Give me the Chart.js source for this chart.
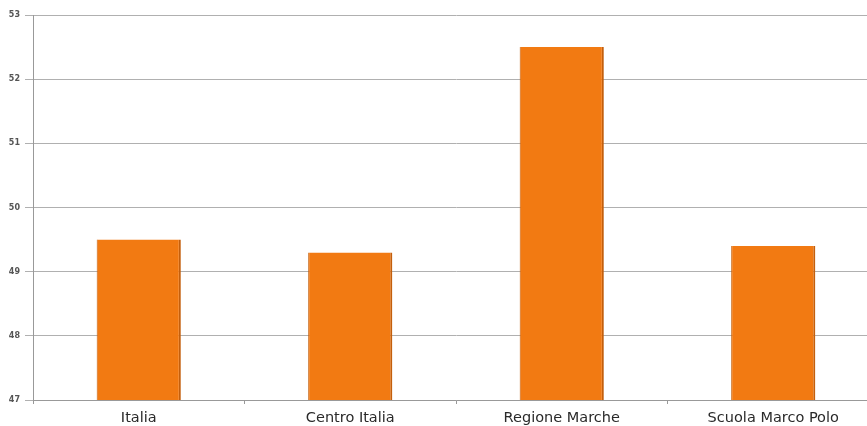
<!DOCTYPE html>
<html><head><meta charset="utf-8">
<script src="https://cdn.jsdelivr.net/npm/chart.js@4"></script>
<style>html,body{margin:0;padding:0;background:#fff;overflow:hidden}#w{width:867px;height:426px;overflow:hidden}</style>
</head><body><div id="w"><canvas id="c" width="879" height="426"></canvas></div>
<script>
const categories = ["Italia", "Centro Italia", "Regione Marche", "Scuola Marco Polo"];
const values = [49.5, 49.3, 52.5, 49.4];
const yTicks = [47, 48, 49, 50, 51, 52, 53];

new Chart(document.getElementById('c'), {
  type: 'bar',
  data: {
    labels: categories,
    datasets: [{
      data: values,
      backgroundColor: '#F27A12',
      borderColor: '#C45F0C',
      borderWidth: {top: 0, right: 2, bottom: 0, left: 1},
      borderSkipped: false,
      categoryPercentage: 1,
      barPercentage: 0.398
    }]
  },
  options: {
    responsive: false,
    animation: false,
    layout: {padding: {top: 15, right: 0, left: 0, bottom: 0}},
    plugins: {legend: {display: false}, tooltip: {enabled: false}},
    scales: {
      x: {
        grid: {display: true, drawOnChartArea: false, offset: true, tickLength: 4, color: '#999'},
        border: {color: '#999'},
        ticks: {color: '#2a2a2a', font: {family: 'DejaVu Sans', size: 14.5}, padding: 6},
        afterFit: s => { s.height = 26; }
      },
      y: {
        min: yTicks[0], max: yTicks[yTicks.length - 1],
        afterBuildTicks: s => { s.ticks = yTicks.map(v => ({value: v})); },
        grid: {color: '#b0b0b0', tickLength: 8},
        border: {color: '#999', width: 1},
        ticks: {color: '#555', font: {family: 'DejaVu Sans', size: 8, weight: 'bold'}, padding: 5},
        afterFit: s => { s.width = 33; }
      }
    }
  }
});
</script>
</body></html>
